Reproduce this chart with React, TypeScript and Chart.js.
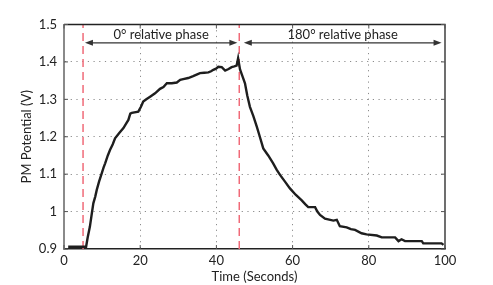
import { useEffect, useRef } from 'react';
import { Chart, registerables } from 'chart.js';

Chart.register(...registerables);

// ---- data ----
const timeSec = [
  1.1, 5.8, 6.2, 6.8, 7.3, 7.7, 8.2, 8.6, 9.2, 9.9, 10.4, 10.8, 11.5, 12.1, 12.8, 13.4,
  14.5, 15.6, 16.3, 16.9, 17.4, 17.8, 19.5, 20.2, 20.8, 21.6, 22.6, 23.9, 25.2, 26.1, 27,
  28.3, 29.6, 30.5, 31.3, 32.6, 33.9, 34.8, 35.7, 36.8, 37.9, 38.6, 39.2, 39.9, 40.5, 41.4,
  42.3, 43.2, 44, 44.7, 45.3, 45.7, 46.2, 46.9, 47.5, 48.1, 48.8, 49.7, 50.6, 51.4, 52.3,
  53.6, 54.9, 55.8, 56.7, 58.0, 59.3, 60.8, 62.4, 63.3, 64.1, 65.9, 66.5, 67.2, 68.5, 70.7,
  71.6, 72.4, 74.2, 75.3, 76.4, 78.1, 79.4, 82.1, 83.4, 86.9, 87.8, 88.6, 89.5, 93.9, 94.3,
  99.1, 99.6,
];
const pmPotential = [
  0.906, 0.906, 0.93, 0.96, 0.995, 1.022, 1.04, 1.058, 1.08, 1.102, 1.118, 1.129, 1.15, 1.165, 1.18, 1.196,
  1.21, 1.223, 1.235, 1.245, 1.262, 1.264, 1.267, 1.28, 1.294, 1.3, 1.307, 1.316, 1.328, 1.333, 1.343,
  1.343, 1.345, 1.352, 1.354, 1.357, 1.362, 1.366, 1.37, 1.371, 1.372, 1.375, 1.379, 1.382, 1.387, 1.386,
  1.377, 1.381, 1.386, 1.388, 1.39, 1.41, 1.38, 1.36, 1.343, 1.31, 1.28, 1.255, 1.227, 1.2, 1.169,
  1.15, 1.129, 1.112, 1.098, 1.08, 1.062, 1.045, 1.03, 1.02, 1.012, 1.012, 1.0, 0.991, 0.981, 0.976,
  0.978, 0.961, 0.958, 0.953, 0.951, 0.942, 0.939, 0.936, 0.931, 0.931, 0.921, 0.926, 0.921, 0.921, 0.915,
  0.915, 0.911,
];
const phaseBoundaries = [5, 46];
const arrowStarts = [5.5, 47.2];
const arrowEnds = [45.5, 99.1];
const arrowLabels = ['0° relative phase', '180° relative phase'];
const arrowLevel = 1.451;
const labelLevel = 1.472;
const xTickValues = [0, 20, 40, 60, 80, 100];
const yTickValues = [0.9, 1, 1.1, 1.2, 1.3, 1.4, 1.5];

const FONT = 'Lato';
const TEXT = '#222';

const decorPlugin = {
  id: 'decor',
  afterDatasetsDraw(chart: any) {
    const { ctx, chartArea: a, scales } = chart;
    const xs = scales.x;
    const ys = scales.y;
    ctx.save();
    ctx.setLineDash([]);
    // box top/right
    ctx.strokeStyle = '#222';
    ctx.lineWidth = 1.3;
    ctx.beginPath();
    ctx.moveTo(a.left, a.top);
    ctx.lineTo(a.right, a.top);
    ctx.lineTo(a.right, a.bottom);
    ctx.stroke();
    // inward ticks
    ctx.lineWidth = 1;
    ctx.strokeStyle = '#555';
    ctx.beginPath();
    xTickValues.forEach((v) => {
      const px = xs.getPixelForValue(v);
      ctx.moveTo(px, a.bottom);
      ctx.lineTo(px, a.bottom - 4);
      ctx.moveTo(px, a.top);
      ctx.lineTo(px, a.top + 4);
    });
    yTickValues.forEach((v) => {
      const py = ys.getPixelForValue(v);
      ctx.moveTo(a.left, py);
      ctx.lineTo(a.left + 4, py);
      ctx.moveTo(a.right, py);
      ctx.lineTo(a.right - 4, py);
    });
    ctx.stroke();
    // arrows + labels
    const ay = ys.getPixelForValue(arrowLevel);
    const ly = ys.getPixelForValue(labelLevel);
    ctx.strokeStyle = '#333';
    ctx.fillStyle = '#333';
    ctx.lineWidth = 1.3;
    arrowStarts.forEach((s, i) => {
      const x1 = xs.getPixelForValue(s);
      const x2 = xs.getPixelForValue(arrowEnds[i]);
      ctx.beginPath();
      ctx.moveTo(x1 + 4, ay);
      ctx.lineTo(x2 - 4, ay);
      ctx.stroke();
      ctx.beginPath();
      ctx.moveTo(x1, ay);
      ctx.lineTo(x1 + 8, ay - 3);
      ctx.lineTo(x1 + 8, ay + 3);
      ctx.closePath();
      ctx.fill();
      ctx.beginPath();
      ctx.moveTo(x2, ay);
      ctx.lineTo(x2 - 8, ay - 3);
      ctx.lineTo(x2 - 8, ay + 3);
      ctx.closePath();
      ctx.fill();
      ctx.fillStyle = TEXT;
      ctx.font = `13px ${FONT}`;
      ctx.textAlign = 'center';
      ctx.textBaseline = 'middle';
      ctx.fillText(arrowLabels[i], (x1 + x2) / 2, ly);
      ctx.fillStyle = '#333';
    });
    ctx.restore();
  },
};

export default function App() {
  const ref = useRef<HTMLCanvasElement>(null);
  useEffect(() => {
    if (!ref.current) return;
    const curve = timeSec.map((t, i) => ({ x: t, y: pmPotential[i] }));
    const phaseSets = phaseBoundaries.map((t) => ({
      data: [
        { x: t, y: 0.9 },
        { x: t, y: 1.5 },
      ],
      borderColor: '#f06a78',
      borderWidth: 1.5,
      borderDash: [8, 5],
      pointRadius: 0,
      showLine: true,
      order: 1,
    }));
    const gridColor = (ctx: any, edgeVals: number[]) =>
      edgeVals.some((e) => Math.abs(ctx.tick.value - e) < 1e-6) ? 'rgba(0,0,0,0)' : '#8c8c8c';
    const chart = new Chart(ref.current, {
      type: 'scatter',
      data: {
        datasets: [
          {
            data: curve,
            borderColor: '#1e1e1e',
            borderWidth: 2.4,
            pointRadius: 0,
            showLine: true,
            tension: 0,
            order: 0,
          },
          ...phaseSets,
        ] as any,
      },
      options: {
        responsive: false,
        animation: false,
        layout: { padding: { top: 24.5, right: 48, bottom: 0, left: 0 } },
        plugins: { legend: { display: false }, tooltip: { enabled: false } },
        scales: {
          x: {
            type: 'linear',
            min: 0,
            max: 100,
            afterBuildTicks: (s: any) => {
              s.ticks = xTickValues.map((v) => ({ value: v }));
            },
            afterFit: (s: any) => {
              s.height = 36;
            },
            grid: {
              color: (c: any) => gridColor(c, [0, 100]),
              lineWidth: 1,
              drawTicks: false,
            },
            border: { color: '#222', width: 1.5, dash: [1.2, 4.5] } as any,
            ticks: {
              padding: 4,
              color: TEXT,
              font: { family: FONT, size: 13, lineHeight: 1.2 },
              maxRotation: 0,
            },
            title: {
              display: true,
              text: 'Time (Seconds)',
              color: TEXT,
              font: { family: FONT, size: 13, lineHeight: 1.2 },
              padding: { top: 0, bottom: 0.5 },
            },
          },
          y: {
            type: 'linear',
            min: 0.9,
            max: 1.5,
            afterBuildTicks: (s: any) => {
              s.ticks = yTickValues.map((v) => ({ value: v }));
            },
            afterFit: (s: any) => {
              s.width = 64;
            },
            grid: {
              color: (c: any) => gridColor(c, [0.9, 1.5]),
              lineWidth: 1,
              drawTicks: false,
            },
            border: { color: '#8a8a8a', width: 2, dash: [1.2, 4.5] } as any,
            ticks: {
              padding: 7,
              color: TEXT,
              font: { family: FONT, size: 13, lineHeight: 1.2 },
              callback: (v: any) => String(Number(Number(v).toFixed(1))),
            },
            title: {
              display: true,
              text: 'PM Potential (V)',
              color: TEXT,
              font: { family: FONT, size: 13, lineHeight: 1.2 },
              padding: { top: 19, bottom: 0 },
            },
          },
        },
      },
      plugins: [decorPlugin],
    });
    return () => chart.destroy();
  }, []);
  return (
    <div style={{ position: 'absolute', left: 0, top: 0, width: 493, height: 285, background: '#fff' }}>
      <canvas ref={ref} width={493} height={285} style={{ display: 'block' }} />
    </div>
  );
}
